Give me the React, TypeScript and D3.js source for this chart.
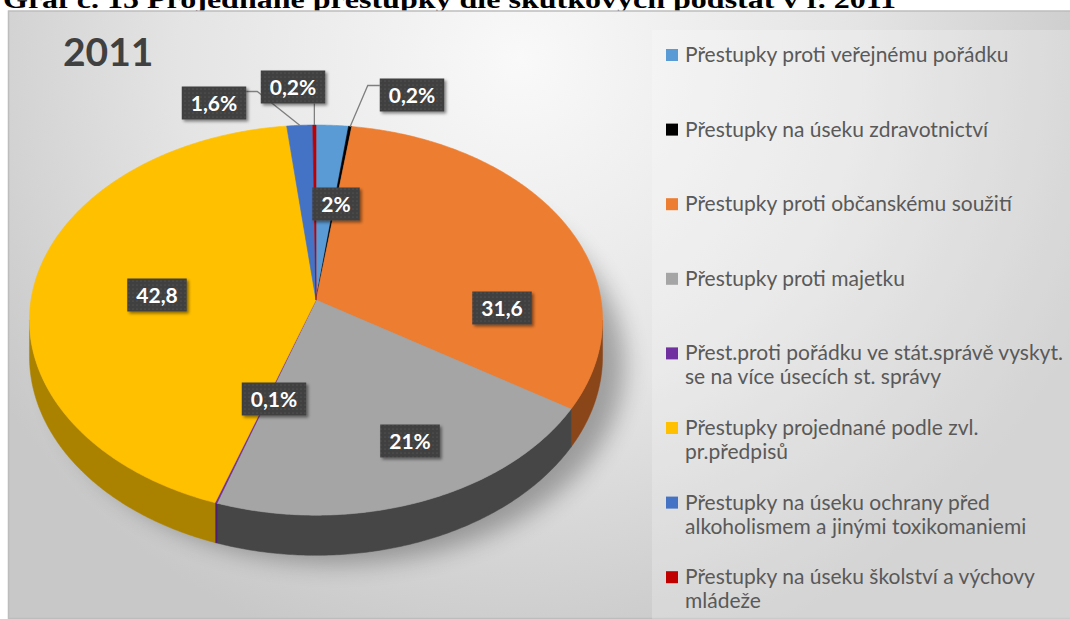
import { useMemo } from 'react';
import * as d3 from 'd3';

// ── Data ──

const categories = [
  'Přestupky proti veřejnému pořádku',
  'Přestupky na úseku zdravotnictví',
  'Přestupky proti občanskému soužití',
  'Přestupky proti majetku',
  'Přest.proti pořádku ve stát.správě vyskyt.\nse na více úsecích st. správy',
  'Přestupky projednané podle zvl.\npr.předpisů',
  'Přestupky na úseku ochrany před\nalkoholismem a jinými toxikomaniemi',
  'Přestupky na úseku školství a výchovy\nmládeže',
];
const values = [2, 0.2, 31.6, 21, 0.1, 42.8, 1.6, 0.2];
const valueLabels = ['2%', '0,2%', '31,6', '21%', '0,1%', '42,8', '1,6%', '0,2%'];

const COLORS = ['#5B9BD5', '#000000', '#ED7D31', '#A5A5A5', '#7030A0', '#FFC000', '#4472C4', '#C00000'];
const WALL = ['#3d6f9e', '#000000', '#8a4519', '#464646', '#4b1f6d', '#ab8200', '#2f4f8a', '#7a0000'];

// data-label box centres (Excel best-fit placement) and which ones carry a leader line
const LABEL_AT: [number, number][] = [
  [336, 204], [412, 95], [502, 308], [410, 441], [274, 399], [157, 295], [214, 103], [293, 87],
];
const LEADER: Record<number, 'left' | 'right' | 'down'> = { 1: 'left', 6: 'right', 7: 'down' };

// ── Geometry of the perspective pie ──

const CX = 316;
const CY = 300;
const R = 285;
const B = 193;
const K = 0.103; // perspective: far edge smaller
const DEPTH = 36;

function proj(theta: number, drop = 0): [number, number] {
  const u = Math.sin(theta);
  const v = Math.cos(theta);
  const s = 1 / (1 + K * v);
  return [CX + R * u * s, CY - B * v * s + drop * s];
}

function arcPts(a0: number, a1: number, drop = 0) {
  const n = Math.max(2, Math.ceil(((a1 - a0) * 180) / Math.PI / 0.5));
  const out: [number, number][] = [];
  for (let i = 0; i <= n; i++) out.push(proj(a0 + ((a1 - a0) * i) / n, drop));
  return out;
}

const T1 = Math.acos(-K);
const T2 = 2 * Math.PI - T1;

function measure(text: string, font: string) {
  const ctx = document.createElement('canvas').getContext('2d');
  if (!ctx) return text.length * 11;
  ctx.font = font;
  return ctx.measureText(text).width;
}

export default function App() {
  const arcs = useMemo(
    () =>
      d3
        .pie<number>()
        .sort(null)
        .value((d) => d)
        .startAngle(0)
        .endAngle(2 * Math.PI)(values),
    [],
  );

  const line = d3.line();

  const walls = arcs.map((a, i) => {
    const s = Math.max(a.startAngle, T1);
    const e = Math.min(a.endAngle, T2);
    if (e <= s) return null;
    const top = arcPts(s, e);
    const bot = arcPts(s, e, DEPTH).reverse();
    return <path key={'w' + i} d={line([...top, ...bot])! + 'Z'} fill={WALL[i]} stroke={WALL[i]} strokeWidth={0.5} />;
  });

  const tops = arcs.map((a, i) => {
    const pts = [[CX, CY] as [number, number], ...arcPts(a.startAngle, a.endAngle)];
    return <path key={'t' + i} d={line(pts)! + 'Z'} fill={COLORS[i]} stroke={COLORS[i]} strokeWidth={0.6} />;
  });

  const labelFont = 'bold 21px Lato';
  const boxes = arcs.map((a, i) => {
    const [bx, by] = LABEL_AT[i];
    const tw = measure(valueLabels[i], labelFont);
    const w = tw + 18;
    const h = 33;
    const x0 = bx - w / 2;
    const y0 = by - h / 2;
    let leader: string | null = null;
    const mid = (a.startAngle + a.endAngle) / 2;
    const rim = proj(mid);
    if (LEADER[i] === 'left') {
      const yy = y0 + 7;
      leader = line([rim, [x0 - 12, yy], [x0, yy]]);
    } else if (LEADER[i] === 'right') {
      const yy = y0 + 5;
      leader = line([rim, [x0 + w + 11, yy], [x0 + w, yy]]);
    } else if (LEADER[i] === 'down') {
      leader = line([rim, [rim[0], y0 + h]]);
    }
    return (
      <g key={'l' + i}>
        {leader && <path d={leader} fill="none" stroke="#7f7f7f" strokeWidth={1.3} />}
        <g filter="url(#lblShadow)">
          <rect x={x0} y={y0} width={w} height={h} fill="#404040" />
          <rect x={x0} y={y0} width={w} height={h} fill="url(#dots)" />
        </g>
        <text
          x={bx}
          y={by + 7.5}
          textAnchor="middle"
          fill="#ffffff"
          fontFamily="Lato"
          fontWeight={700}
          fontSize={21}
        >
          {valueLabels[i]}
        </text>
      </g>
    );
  });

  // legend
  const LX = 666;
  const LY0 = 55;
  const LSTEP = 74.6;
  const legend = categories.map((c, i) => {
    const lines = c.split('\n');
    const y = LY0 + i * LSTEP;
    return (
      <g key={'lg' + i}>
        <rect x={LX} y={y - 6} width={12} height={12} fill={COLORS[i]} />
        {lines.map((t, j) => (
          <text key={j} x={LX + 19} y={y + 7 + j * 24} fill="#595959" fontFamily="Lato" fontSize={21}>
            {t}
          </text>
        ))}
      </g>
    );
  });

  const shadowTop = arcPts(0, 2 * Math.PI, DEPTH);

  return (
    <div style={{ position: 'fixed', left: 0, top: 0, width: 1070, height: 619, background: '#fff' }}>
      <svg width={1070} height={619} style={{ display: 'block' }}>
        <defs>
          <radialGradient id="bg" gradientUnits="userSpaceOnUse" cx={520} cy={60} r={620}>
            <stop offset="0" stopColor="#f9f9f9" />
            <stop offset="0.55" stopColor="#e4e4e4" />
            <stop offset="1" stopColor="#c8c8c8" />
          </radialGradient>
          <pattern id="dots" width={4} height={4} patternUnits="userSpaceOnUse">
            <circle cx={1} cy={1} r={0.6} fill="rgba(255,255,255,0.18)" />
          </pattern>
          <filter id="lblShadow" x="-30%" y="-30%" width="160%" height="160%">
            <feDropShadow dx={2} dy={2} stdDeviation={1.5} floodColor="#000" floodOpacity={0.45} />
          </filter>
          <filter id="pieShadow" x="-20%" y="-20%" width="140%" height="140%">
            <feGaussianBlur stdDeviation={12} />
          </filter>
        </defs>

        {/* page title, clipped by the chart area */}
        <text
          x={3}
          y={8}
          fontFamily="Liberation Serif"
          fontWeight={700}
          fontSize={26}
          textLength={893}
          lengthAdjust="spacingAndGlyphs"
          fill="#000"
        >
          Graf č. 15 Projednané přestupky dle skutkových podstat v r. 2011
        </text>

        {/* chart area */}
        <rect x={8.5} y={11} width={1070} height={607.5} fill="url(#bg)" stroke="#bdbdbd" strokeWidth={1.5} />
        <rect x={652} y={30} width={420} height={589} fill="#ffffff" opacity={0.22} />

        <text x={63} y={66} fontFamily="Lato" fontWeight={700} fontSize={39} fill="#404040">
          2011
        </text>

        {/* soft shadow under the pie */}
        <path
          d={line(shadowTop.map(([x, y]) => [x + 22, y + 8] as [number, number]))! + 'Z'}
          fill="#000"
          opacity={0.3}
          filter="url(#pieShadow)"
        />

        <g>{walls}</g>
        <g>{tops}</g>
        <g>{boxes}</g>
        <g>{legend}</g>
      </svg>
    </div>
  );
}
